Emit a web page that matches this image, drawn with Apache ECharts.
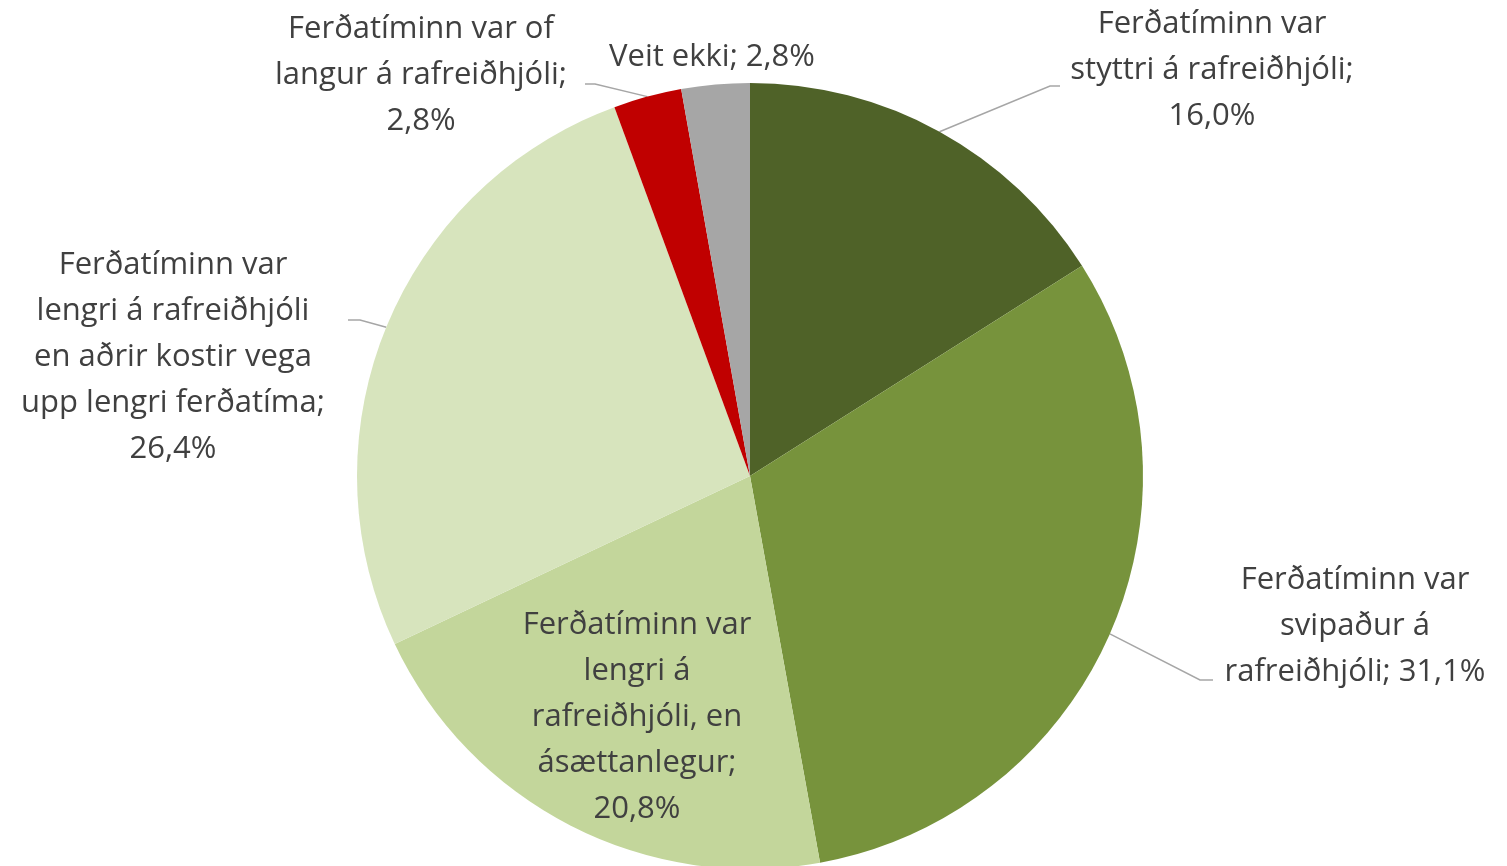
<!DOCTYPE html>
<html>
<head>
<meta charset="utf-8">
<script src="https://cdn.jsdelivr.net/npm/echarts@6/dist/echarts.min.js"></script>
<style>
html,body{margin:0;padding:0;background:#fff;}
#chart{width:1507px;height:866px;}
</style>
</head>
<body>
<div id="chart"></div>
<script>
// Data
const categories = [
  'Ferðatíminn var\nstyttri á rafreiðhjóli',
  'Ferðatíminn var\nsvipaður á\nrafreiðhjóli',
  'Ferðatíminn var\nlengri á\nrafreiðhjóli, en\násættanlegur',
  'Ferðatíminn var\nlengri á rafreiðhjóli\nen aðrir kostir vega\nupp lengri ferðatíma',
  'Ferðatíminn var of\nlangur á rafreiðhjóli',
  'Veit ekki'
];
const values = [16.0, 31.1, 20.8, 26.4, 2.8, 2.8];
const colors = ['#4F6228', '#77933C', '#C3D69B', '#D7E4BD', '#C00000', '#A6A6A6'];
// separator between name and value: newline or space
const separators = ['\n', ' ', '\n', '\n', '\n', ' '];
// label anchor positions (label centre) per slice
const labelPos = [
  [1212, 70], [1355, 626], [637, 717], [173, 357], [421, 75], [712, 57]
];
// leader line bend and end points (null = no leader line)
const leaderEnds = [
  [[1050, 86], [1060, 86]],
  [[1200, 680], [1213, 680]],
  null,
  [[360, 320], [348, 320]],
  [[595, 84], [585, 84]],
  null
];

const fmt = v => v.toFixed(1).replace('.', ',') + '%';

const chart = echarts.init(document.getElementById('chart'));
chart.setOption({
  animation: false,
  series: [{
    type: 'pie',
    center: [750, 476],
    radius: [0, 393],
    startAngle: 90,
    clockwise: true,
    avoidLabelOverlap: false,
    data: values.map((v, i) => ({
      name: categories[i],
      value: v,
      itemStyle: { color: colors[i] },
      label: { position: i === 2 ? 'inside' : 'outside' },
      labelLine: { show: leaderEnds[i] !== null }
    })),
    itemStyle: { borderWidth: 0 },
    label: {
      show: true,
      formatter: p => p.name + ';' + separators[p.dataIndex] + fmt(p.value),
      fontFamily: 'Open Sans',
      fontSize: 31,
      lineHeight: 46,
      color: '#404040',
      align: 'center'
    },
    labelLine: {
      show: true,
      length: 20,
      length2: 10,
      lineStyle: { color: '#A6A6A6', width: 1.5 }
    },
    labelLayout: p => {
      const o = {
        x: labelPos[p.dataIndex][0],
        y: labelPos[p.dataIndex][1],
        align: 'center',
        verticalAlign: 'middle'
      };
      const le = leaderEnds[p.dataIndex];
      if (le && p.labelLinePoints) {
        o.labelLinePoints = [p.labelLinePoints[0], le[0], le[1]];
      }
      return o;
    }
  }]
});
</script>
</body>
</html>
